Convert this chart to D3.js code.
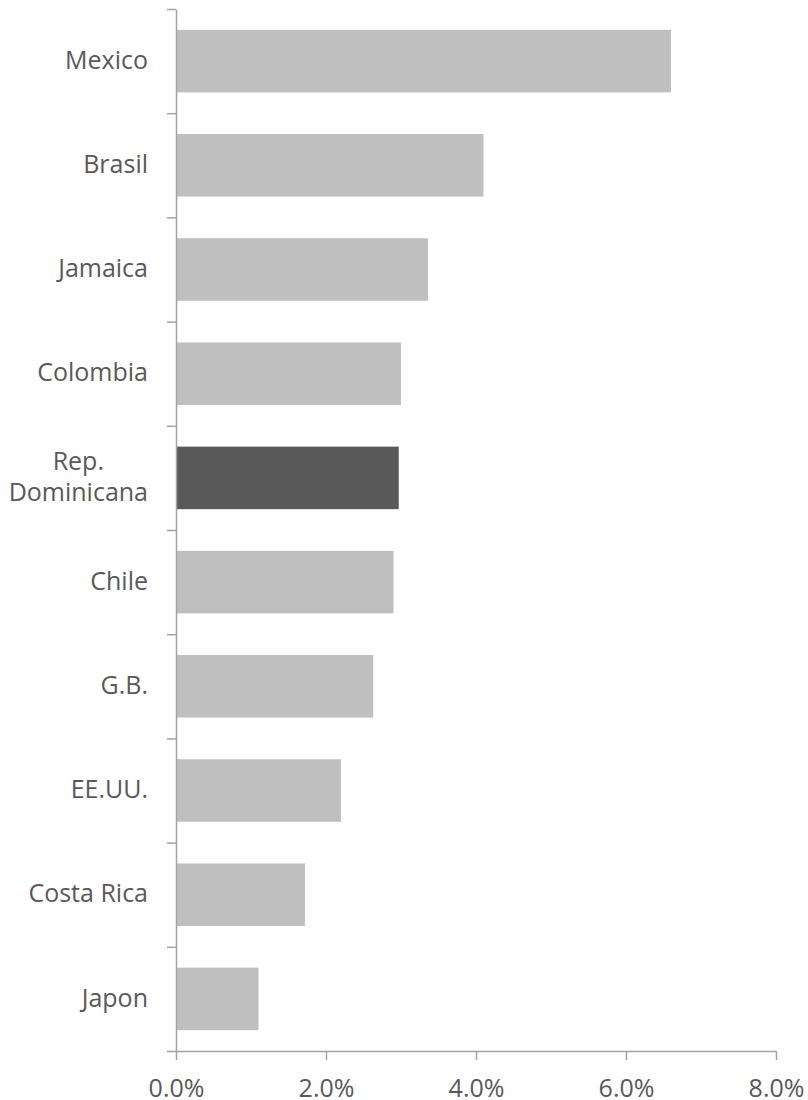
<!DOCTYPE html>
<html>
<head>
<meta charset="utf-8">
<script src="https://cdn.jsdelivr.net/npm/d3@7"></script>
<style>
  body { margin: 0; background: #fff; }
  svg text { font-family: "Open Sans", "Noto Sans", sans-serif; fill: #595959; }
</style>
</head>
<body>
<div id="chart"></div>
<script>
// ---- data ----
let countries = ["Mexico", "Brasil", "Jamaica", "Colombia", "Rep. Dominicana",
                 "Chile", "G.B.", "EE.UU.", "Costa Rica", "Japon"];
let values = [0.066, 0.041, 0.0336, 0.030, 0.0297, 0.029, 0.0263, 0.022, 0.0172, 0.011];
let highlight = "Rep. Dominicana";
let xTicks = [0, 0.02, 0.04, 0.06, 0.08];

// ---- look ----
let width = 808, height = 1100;
let plot = {left: 176, right: 776, top: 9, bottom: 1051};
let barColor = "#bfbfbf", highColor = "#595959", axisColor = "#a3a3a3";
let fontSize = 25;

let rows = countries.map((c, i) => ({name: c, value: values[i]}));

var svg = d3.select("#chart").append("svg")
    .attr("width", width)
    .attr("height", height);

var x = d3.scaleLinear()
    .domain([0, 0.08])
    .range([plot.left, plot.right]);

var y = d3.scaleBand()
    .domain(countries)
    .range([plot.top, plot.bottom])
    .paddingInner(0.4)
    .paddingOuter(0.2);

// boundaries between categories for the y ticks
var yEdges = d3.scaleLinear()
    .domain([0, countries.length])
    .range([plot.top, plot.bottom]);

svg.selectAll("rect.bar")
    .data(rows)
    .enter()
    .append("rect")
    .attr("class", "bar")
    .attr("x", x(0))
    .attr("y", d => y(d.name))
    .attr("width", d => x(d.value) - x(0))
    .attr("height", y.bandwidth())
    .attr("fill", d => d.name == highlight ? highColor : barColor);

// y axis: line + ticks at category edges
var yAxis = svg.append("g")
    .attr("transform", "translate(" + plot.left + ",0)")
    .call(d3.axisLeft(yEdges).tickValues(d3.range(0, countries.length + 1))
        .tickSize(9).tickSizeOuter(0).tickFormat(""));

// x axis
var xAxis = svg.append("g")
    .attr("transform", "translate(0," + plot.bottom + ")")
    .call(d3.axisBottom(x).tickValues(xTicks).tickSize(9).tickSizeOuter(0)
        .tickPadding(19).tickFormat(d3.format(".1%")));

[xAxis, yAxis].forEach(a => {
    a.select(".domain").attr("stroke", axisColor).attr("stroke-width", 1.5);
    a.selectAll(".tick line").attr("stroke", axisColor).attr("stroke-width", 1.5);
    a.selectAll("text").attr("font-size", fontSize).attr("fill", "#595959")
        .attr("font-family", "'Open Sans', 'Noto Sans', sans-serif");
});

// category labels (wrapped ones are centred on each other, right aligned as a block)
var labelRight = plot.left - 28;
var lineHeight = 31;
svg.selectAll("text.cat")
    .data(countries)
    .enter()
    .append("text")
    .attr("class", "cat")
    .attr("font-size", fontSize)
    .each(function (name) {
        let t = d3.select(this);
        let lines = name == "Rep. Dominicana" ? ["Rep.", "Dominicana"] : [name];
        let cy = y(name) + y.bandwidth() / 2;
        let first = cy - (lines.length - 1) * lineHeight / 2;
        let spans = lines.map((l, i) => t.append("tspan")
            .attr("y", first + i * lineHeight)
            .attr("dy", "0.31em")
            .text(l));
        let widest = d3.max(spans, s => s.node().getComputedTextLength());
        t.attr("text-anchor", "middle");
        spans.forEach(s => s.attr("x", labelRight - widest / 2));
    });
</script>
</body>
</html>
